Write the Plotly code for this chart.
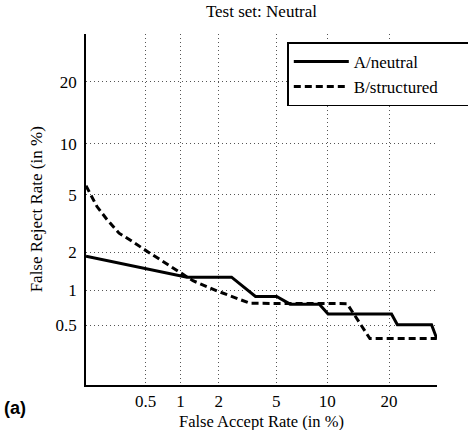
from statistics import NormalDist
import plotly.graph_objects as go

# Data (percent)
a_far = [0.135, 1.13, 2.48, 3.65, 5.03, 6.1, 9.05, 10.1, 20.5, 21.7, 29.5, 30.8]
a_frr = [1.86, 1.28, 1.28, 0.89, 0.89, 0.767, 0.767, 0.632, 0.632, 0.507, 0.507, 0.38]
b_far = [0.135, 0.174, 0.218, 0.285, 0.377, 0.484, 1.26, 1.94, 3.35, 12.7, 16.4, 30.8]
b_frr = [5.70, 4.19, 3.43, 2.75, 2.41, 2.10, 1.20, 0.99, 0.78, 0.775, 0.38, 0.38]
x_ticks = [0.5, 1, 2, 5, 10, 20]
y_ticks = [0.5, 1, 2, 5, 10, 20]
x_tick_labels = ["0.5", "1", "2", "5", "10", "20"]
y_tick_labels = ["0.5", "1", "2", "5", "10", "20"]

nd = NormalDist()
def probit(v):
    return [nd.inv_cdf(p / 100.0) for p in v]

FONT = "Liberation Serif"

fig = go.Figure()
fig.add_trace(go.Scatter(x=probit(a_far), y=probit(a_frr), mode="lines", name="A/neutral",
                         line=dict(color="black", width=3)))
fig.add_trace(go.Scatter(x=probit(b_far), y=probit(b_frr), mode="lines", name="B/structured",
                         line=dict(color="black", width=3, dash="7px,4px")))

axis_common = dict(
    showgrid=True, gridcolor="#555", griddash="1px,3px", gridwidth=1,
    zeroline=False, showline=True, linecolor="black", linewidth=1.5,
    ticks="", ticklen=0, tickfont=dict(family=FONT, size=17, color="black"),
    mirror=False,
)
fig.update_xaxes(range=[-3, -0.5], tickmode="array", tickvals=probit(x_ticks),
                 ticktext=x_tick_labels, ticklabelstandoff=0, **axis_common)
fig.update_yaxes(range=[-3, -0.5], tickmode="array", tickvals=probit(y_ticks),
                 ticktext=y_tick_labels, ticklabelstandoff=4, **axis_common)

fig.update_layout(
    width=468, height=430,
    margin=dict(l=86, r=31, t=34, b=45, autoexpand=False),
    paper_bgcolor="white", plot_bgcolor="white",
    title=dict(text="Test set: Neutral", x=0.5587, xanchor="center", y=0.974, yanchor="middle",
               font=dict(family=FONT, size=17, color="black")),
    legend=dict(x=0.5735, y=0.976, xanchor="left", yanchor="top", orientation="h",
                bordercolor="black", borderwidth=1.5, bgcolor="white",
                font=dict(family=FONT, size=17, color="black"),
                itemwidth=55, entrywidth=172, tracegroupgap=0),
    showlegend=True,
    annotations=[
        dict(text="False Accept Rate (in %)", xref="paper", yref="paper", x=0.5, y=-0.105,
             xanchor="center", yanchor="middle", showarrow=False,
             font=dict(family=FONT, size=16.5, color="black")),
        dict(text="False Reject Rate (in %)", xref="paper", yref="paper", x=-0.14, y=0.5,
             xanchor="center", yanchor="middle", showarrow=False, textangle=-90,
             font=dict(family=FONT, size=17, color="black")),
        dict(text="<b>(a)</b>", xref="paper", yref="paper", x=-0.24, y=-0.03,
             xanchor="left", yanchor="top", showarrow=False,
             font=dict(family="Liberation Sans", size=18, color="black")),
    ],
)

fig.write_html("out.html")
